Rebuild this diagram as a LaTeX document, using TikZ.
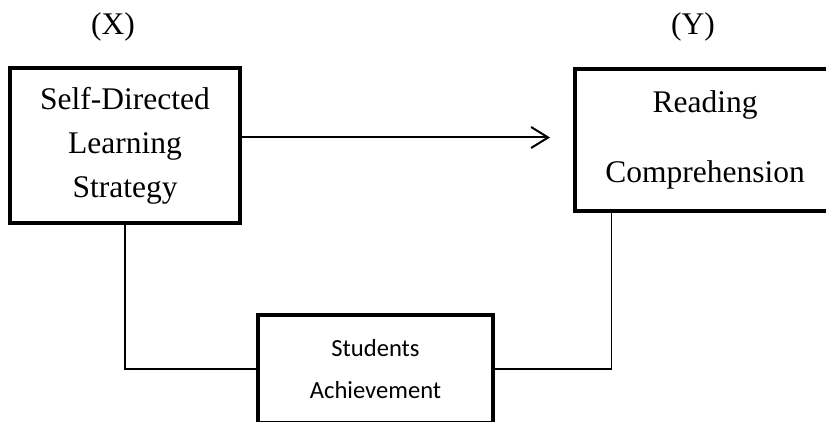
\documentclass[tikz,border=0pt]{standalone}
\usepackage{fontspec}
\setmainfont{Liberation Serif}
\newfontfamily\calibri{Carlito}
\usetikzlibrary{arrows.meta}

\begin{document}
\begin{tikzpicture}[x=1pt, y=1pt,
    box/.style={draw, line width=4.8pt, inner sep=0pt, align=center},
    link/.style={line width=1.4pt},
    serif/.style={font=\fontsize{31.5}{44}\selectfont}]
    \clip (0,0) rectangle (826,422);

    \node[serif] (xl) at (113,395) {(X)};
    \node[serif] (yl) at (693,395) {(Y)};

    \node[box, serif, minimum width=230pt, minimum height=155pt] (sdl) at (125,276.5) {Self-Directed\\Learning\\Strategy};
    \node[box, serif, minimum width=260pt, minimum height=142pt] (rc) at (705,282) {Reading\\[26pt]Comprehension};
    \node[box, font=\calibri\fontsize{24.6}{42}\selectfont, minimum width=235pt, minimum height=108pt] (sa) at (375.5,53) {Students\\Achievement};

    \coordinate (tip) at (550,284.5);
    \draw[line width=2pt, -{Straight Barb[length=17pt, width=21pt]}] (sdl.east |- tip) -- (tip);

    \draw[link] (sdl.south) |- (sa.west);
    \draw[link] (sa.east) -| ([xshift=39pt]rc.south west);
\end{tikzpicture}
\end{document}
